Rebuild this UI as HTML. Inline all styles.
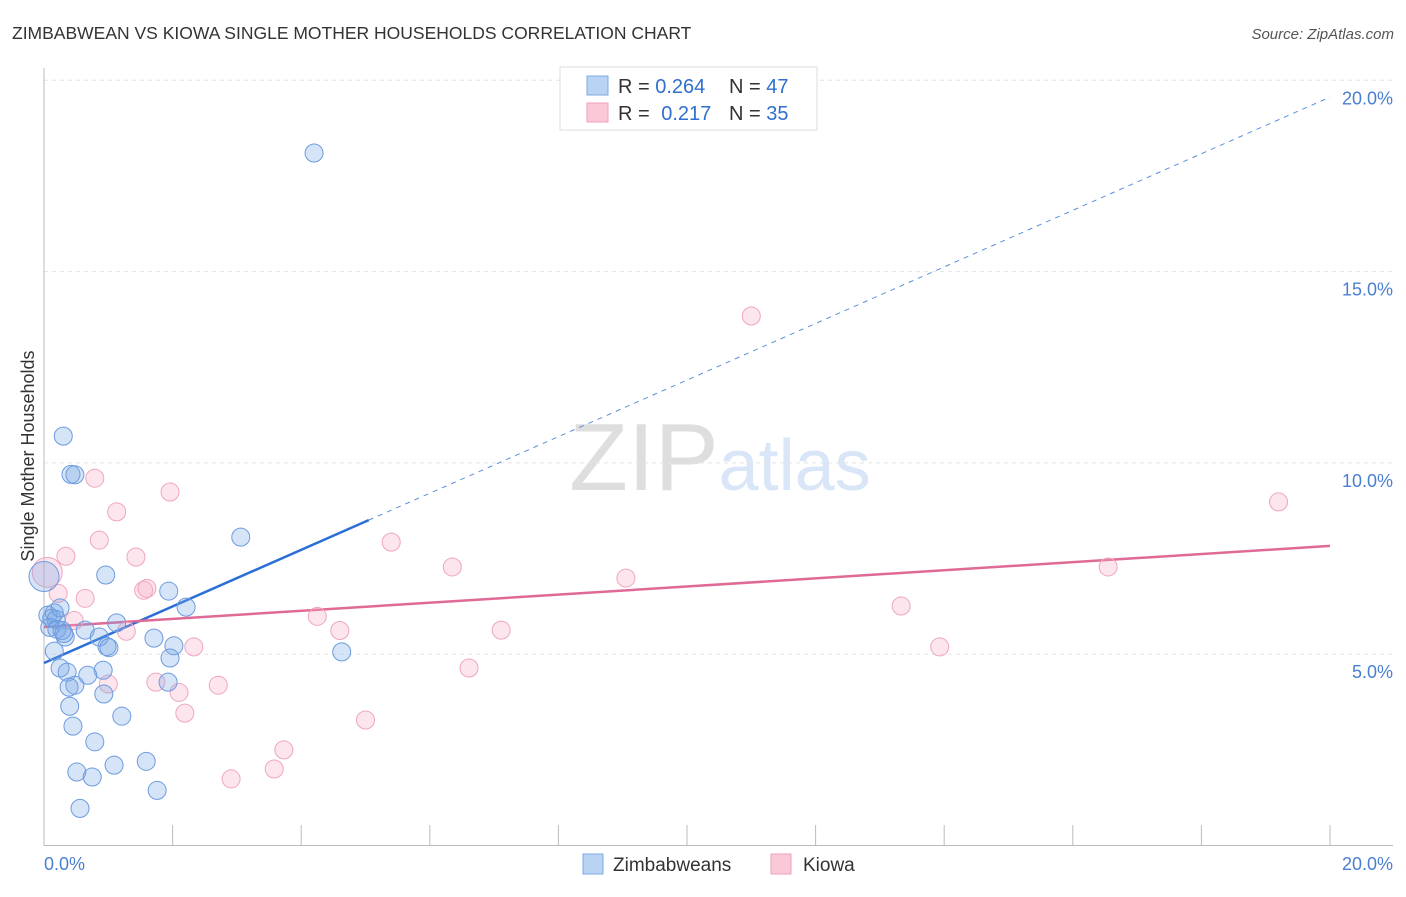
<!DOCTYPE html>
<html><head><meta charset="utf-8"><style>
body{margin:0;background:#fff;font-family:"Liberation Sans",sans-serif;}
svg text{font-family:"Liberation Sans",sans-serif;}
</style></head><body>
<svg id="chart" width="1406" height="892" xmlns="http://www.w3.org/2000/svg">
<text x="12" y="39" font-size="17.5" fill="#333">ZIMBABWEAN VS KIOWA SINGLE MOTHER HOUSEHOLDS CORRELATION CHART</text>
<text x="1394" y="39" font-size="15" fill="#555" text-anchor="end" font-style="italic">Source: ZipAtlas.com</text>
<text x="720" y="490" font-size="96" text-anchor="middle" fill="#e2e2e2" font-family="Liberation Serif"><tspan fill="#dedede">ZIP</tspan><tspan fill="#d8e6f7" font-family="Liberation Sans" font-size="72">atlas</tspan></text>
<g id="grid"></g>
<g id="axes"></g>
<g id="trend"></g>
<g id="pts"></g>
<text transform="translate(34,456) rotate(-90)" font-size="18" fill="#333" text-anchor="middle">Single Mother Households</text>
<g>
<rect x="560" y="67" width="257" height="63" fill="#fff" stroke="#ddd"/>
<rect x="587" y="76" width="21" height="19" fill="#b9d3f5" stroke="#7fa9e0"/>
<rect x="587" y="103" width="21" height="19" fill="#fac8d6" stroke="#f0a0b8"/>
<text x="618" y="93" font-size="20" fill="#333">R = <tspan fill="#2f6fd0">0.264</tspan></text>
<text x="729" y="93" font-size="20" fill="#333">N = <tspan fill="#2f6fd0">47</tspan></text>
<text x="618" y="120" font-size="20" fill="#333">R = <tspan fill="#2f6fd0" dx="6">0.217</tspan></text>
<text x="729" y="120" font-size="20" fill="#333">N = <tspan fill="#2f6fd0">35</tspan></text>
</g>
<g>
<rect x="583" y="854" width="20" height="20" fill="#b9d3f5" stroke="#7fa9e0"/>
<text x="613" y="871" font-size="19" fill="#333">Zimbabweans</text>
<rect x="771" y="854" width="20" height="20" fill="#fac8d6" stroke="#f0a0b8"/>
<text x="803" y="871" font-size="19" fill="#333">Kiowa</text>
</g>
</svg>
<script>
const blueX=[4.2,0.3,0.42,0.48,3.06,0.96,1.94,2.21,1.13,0.64,0.86,0.33,1.71,2.02,0.98,1.01,0.16,1.96,4.63,0.25,0.92,0.36,0.68,0.48,0.39,1.93,0.93,0.4,1.21,0.45,0.79,1.59,1.09,0.51,0.75,1.76,0.56,0.06,0.12,0.19,0.09,0.2,0.28,0.31,0.0,0.16,0.25];
const blueY=[18.1,10.7,9.7,9.69,8.06,7.07,6.65,6.23,5.82,5.63,5.45,5.45,5.42,5.22,5.2,5.17,5.08,4.9,5.06,4.64,4.58,4.53,4.45,4.19,4.14,4.27,3.96,3.64,3.38,3.12,2.71,2.2,2.1,1.92,1.79,1.44,0.97,6.02,5.94,5.91,5.7,5.65,5.62,5.54,7.03,6.08,6.21];
const blueR=[9,9,9,9,9,9,9,9,9,9,9,9,9,9,9,9,9,9,9,9,9,9,9,9,9,9,9,9,9,9,9,9,9,9,9,9,9,9,9,9,9,9,9,9,15,9,9];
const pinkX=[11.0,19.2,0.79,1.96,1.13,0.86,0.34,1.43,5.4,6.35,16.55,9.05,1.55,1.6,0.22,0.64,0.47,13.33,4.25,4.6,1.28,7.11,2.33,13.93,6.61,1.0,1.74,2.1,2.71,2.19,5.0,3.73,3.58,2.91,0.05];
const pinkY=[13.84,8.98,9.6,9.24,8.72,7.98,7.56,7.54,7.93,7.28,7.28,6.99,6.67,6.72,6.59,6.46,5.88,6.26,5.99,5.62,5.6,5.63,5.19,5.19,4.64,4.22,4.27,4.0,4.19,3.46,3.28,2.5,2.0,1.74,7.14];
const pinkR=[9,9,9,9,9,9,9,9,9,9,9,9,9,9,9,9,9,9,9,9,9,9,9,9,9,9,9,9,9,9,9,9,9,9,15];
const blueTrend=[4.77,19.56];
const pinkTrend=[5.71,7.83];
const blueSolidEnd=5.05;
const yTicks=[5,10,15,20];
const yTickLabels=["5.0%","10.0%","15.0%","20.0%"];
const xTicks=[0,2,4,6,8,10,12,14,16,18,20];
const NS="http://www.w3.org/2000/svg";
const sx=v=>44+v*64.3, sy=v=>845.5-v*38.26;
function mk(parent,tag,attrs){const e=document.createElementNS(NS,tag);for(const k in attrs)e.setAttribute(k,attrs[k]);document.getElementById(parent).appendChild(e);return e;}
yTicks.forEach((t,i)=>{
 const l=mk('grid','line',{x1:44,x2:1393,y1:sy(t),y2:sy(t),stroke:'#e4e4e4','stroke-dasharray':'4,4'});
 
 
 const tx=mk('axes','text',{x:1393,y:sy(t)+24,'font-size':18,fill:'#4a7fd0','text-anchor':'end'});
 tx.textContent=yTickLabels[i];
 
 
});
let a=mk('axes','line',{x1:44,x2:44,y1:68,y2:846,stroke:'#bbb'});


a=mk('axes','line',{x1:44,x2:1393,y1:845.5,y2:845.5,stroke:'#bbb'});


xTicks.forEach(t=>{
 const l=mk('axes','line',{x1:sx(t),x2:sx(t),y1:825,y2:846,stroke:'#bbb'});
 
 
});
let t0=mk('axes','text',{x:44,y:870,'font-size':18,fill:'#4a7fd0'});t0.textContent='0.0%';


let t1=mk('axes','text',{x:1393,y:870,'font-size':18,fill:'#4a7fd0','text-anchor':'end'});t1.textContent='20.0%';


function drawPts(X,Y,R,fill,stroke,name){X.forEach((x,i)=>{const c=mk('pts','circle',{cx:sx(x),cy:sy(Y[i]),r:R[i],fill:fill,stroke:stroke,'stroke-width':1});
 
 });}
drawPts(pinkX,pinkY,pinkR,'rgba(246,170,195,0.3)','#f0a6bd','kiowa-point');
drawPts(blueX,blueY,blueR,'rgba(120,165,230,0.3)','#6d9be0','zimbabwean-point');
const by=x=>blueTrend[0]+(blueTrend[1]-blueTrend[0])*x/20;
let l=mk('trend','line',{x1:sx(blueSolidEnd),y1:sy(by(blueSolidEnd)),x2:sx(20),y2:sy(by(20)),stroke:'#5b8fdb','stroke-dasharray':'5,5','stroke-width':1});


l=mk('trend','line',{x1:sx(0),y1:sy(by(0)),x2:sx(blueSolidEnd),y2:sy(by(blueSolidEnd)),stroke:'#2a6fd6','stroke-width':2.5});


l=mk('trend','line',{x1:sx(0),y1:sy(pinkTrend[0]),x2:sx(20),y2:sy(pinkTrend[1]),stroke:'#e06a96','stroke-width':2.5});


</script>
</body></html>
